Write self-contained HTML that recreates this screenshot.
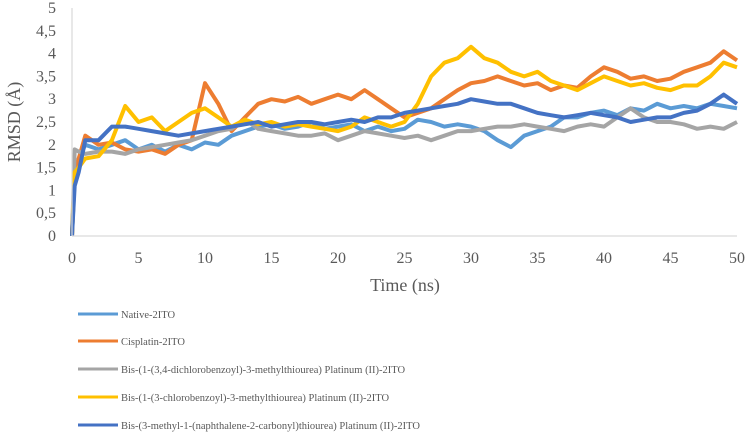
<!DOCTYPE html>
<html><head><meta charset="utf-8"><style>
body{margin:0;background:#fff;}
svg text{font-family:"Liberation Serif",serif;fill:#595959;}
</style></head><body>
<svg id="chart" width="750" height="436" viewBox="0 0 750 436" xmlns="http://www.w3.org/2000/svg">
<g id="grid"></g><g id="series"></g><g id="axes"></g>
<text x="405" y="291" font-size="18" text-anchor="middle">Time (ns)</text>
<text transform="translate(20,122) rotate(-90)" font-size="18" text-anchor="middle">RMSD (Å)</text>
<g id="legend"></g>
</svg>
<script>
const times=[0,0.2,0.5,1,2,3,4,5,6,7,8,9,10,11,12,13,14,15,16,17,18,19,20,21,22,23,24,25,26,27,28,29,30,31,32,33,34,35,36,37,38,39,40,41,42,43,44,45,46,47,48,49,50];
const xTicks=[0,5,10,15,20,25,30,35,40,45,50];
const yTicks=[0,0.5,1,1.5,2,2.5,3,3.5,4,4.5,5];
const yTickLabels=["0","0,5","1","1,5","2","2,5","3","3,5","4","4,5","5"];
const seriesNames=["Native-2ITO","Cisplatin-2ITO","Bis-(1-(3,4-dichlorobenzoyl)-3-methylthiourea) Platinum (II)-2ITO","Bis-(1-(3-chlorobenzoyl)-3-methylthiourea) Platinum (II)-2ITO","Bis-(3-methyl-1-(naphthalene-2-carbonyl)thiourea) Platinum (II)-2ITO"];
const seriesColors=["#5B9BD5","#ED7D31","#A5A5A5","#FFC000","#4472C4"];
const nativeVals=[0,1.3,1.7,2.0,1.9,2.0,2.1,1.9,2.0,1.85,2.0,1.9,2.05,2.0,2.2,2.3,2.4,2.45,2.35,2.4,2.5,2.35,2.4,2.45,2.3,2.4,2.3,2.35,2.55,2.5,2.4,2.45,2.4,2.3,2.1,1.95,2.2,2.3,2.4,2.6,2.6,2.7,2.75,2.65,2.8,2.75,2.9,2.8,2.85,2.8,2.9,2.85,2.8];
const cisplatinVals=[0,1.4,1.7,2.2,2.0,2.05,1.9,1.85,1.9,1.8,2.0,2.1,3.35,2.9,2.3,2.6,2.9,3.0,2.95,3.05,2.9,3.0,3.1,3.0,3.2,3.0,2.8,2.6,2.7,2.8,3.0,3.2,3.35,3.4,3.5,3.4,3.3,3.35,3.2,3.3,3.25,3.5,3.7,3.6,3.45,3.5,3.4,3.45,3.6,3.7,3.8,4.05,3.85];
const dichloroVals=[0,1.9,1.85,1.8,1.85,1.85,1.8,1.9,1.95,2.0,2.05,2.1,2.2,2.3,2.35,2.55,2.35,2.3,2.25,2.2,2.2,2.25,2.1,2.2,2.3,2.25,2.2,2.15,2.2,2.1,2.2,2.3,2.3,2.35,2.4,2.4,2.45,2.4,2.35,2.3,2.4,2.45,2.4,2.6,2.8,2.6,2.5,2.5,2.45,2.35,2.4,2.35,2.5];
const chloroVals=[0,1.4,1.5,1.7,1.75,2.1,2.85,2.5,2.6,2.3,2.5,2.7,2.8,2.6,2.4,2.55,2.45,2.5,2.4,2.45,2.4,2.35,2.3,2.4,2.6,2.5,2.4,2.5,2.9,3.5,3.8,3.9,4.15,3.9,3.8,3.6,3.5,3.6,3.4,3.3,3.2,3.35,3.5,3.4,3.3,3.35,3.25,3.2,3.3,3.3,3.5,3.8,3.7];
const naphVals=[0,1.1,1.4,2.1,2.1,2.4,2.4,2.35,2.3,2.25,2.2,2.25,2.3,2.35,2.4,2.45,2.5,2.4,2.45,2.5,2.5,2.45,2.5,2.55,2.5,2.6,2.6,2.7,2.75,2.8,2.85,2.9,3.0,2.95,2.9,2.9,2.8,2.7,2.65,2.6,2.65,2.7,2.65,2.6,2.5,2.55,2.6,2.6,2.7,2.75,2.9,3.1,2.9];
const allSeries=[nativeVals,cisplatinVals,dichloroVals,chloroVals,naphVals];

const X0=72,X1=737,Y0=236,Y1=8;
const xs=v=>X0+(v-0)/(50-0)*(X1-X0);
const ys=v=>Y0-(v-0)/(5-0)*(Y0-Y1);
const NS="http://www.w3.org/2000/svg";
function mk(tag,attrs,parent){const e=document.createElementNS(NS,tag);for(const k in attrs)e.setAttribute(k,attrs[k]);parent.appendChild(e);return e;}
const axes=document.getElementById('axes');
const xl=mk('line',{x1:X0,x2:X1,y1:Y0,y2:Y0,stroke:'#d9d9d9','stroke-width':1.2},axes);


const yl=mk('line',{x1:X0,x2:X0,y1:Y1,y2:Y0,stroke:'#d9d9d9','stroke-width':1.2},axes);


xTicks.forEach(t=>{const e=mk('text',{x:xs(t),y:263,'font-size':16,'text-anchor':'middle'},axes);e.textContent=t;

});
yTicks.forEach((t,i)=>{const e=mk('text',{x:56,y:ys(t)+5,'font-size':16,'text-anchor':'end'},axes);e.textContent=yTickLabels[i];

});
const sg=document.getElementById('series');
allSeries.forEach((vals,si)=>{
  const d=vals.map((v,i)=>(i?'L':'M')+xs(times[i]).toFixed(1)+' '+ys(v).toFixed(1)).join(' ');
  const p=mk('path',{d:d,fill:'none',stroke:seriesColors[si],'stroke-width':4,'stroke-linejoin':'round'},sg);
  
  
});
const lg=document.getElementById('legend');
const ly=[314,341,369,397,425];
seriesNames.forEach((n,i)=>{
  const g=mk('g',{},lg);
  
  
  mk('line',{x1:78,x2:118,y1:ly[i],y2:ly[i],stroke:seriesColors[i],'stroke-width':3},g);
  const t=mk('text',{x:121,y:ly[i]+4,'font-size':10.5,fill:'#404040'},g);t.textContent=n;
});
</script>
</body></html>
